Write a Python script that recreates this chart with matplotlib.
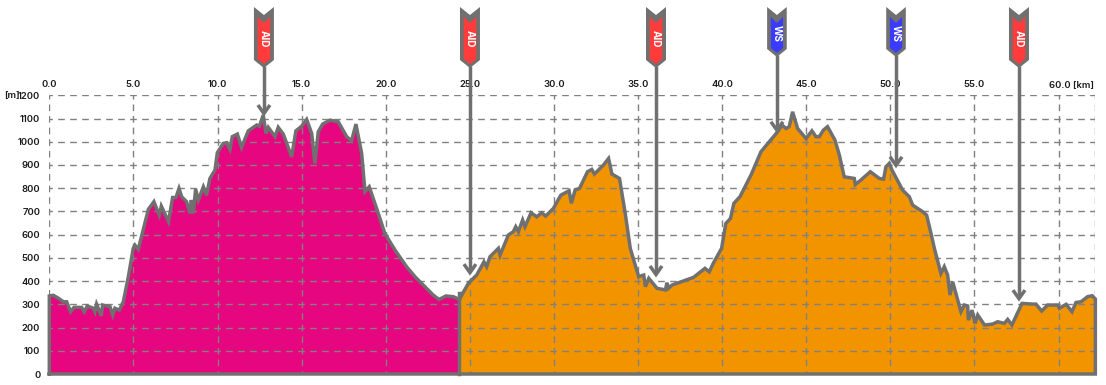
import numpy as np
import matplotlib
matplotlib.use("Agg")
import matplotlib.pyplot as plt
from matplotlib.patches import Polygon
from matplotlib.transforms import Affine2D

W, H = 1106, 385
plt.rcParams['font.family'] = ['Inter', 'DejaVu Sans']

km_a = [0,.24,.54,.83,1.03,1.27,1.47,1.92,2.08,2.26,2.62,2.71,2.81,2.97,3.09,3.17,3.61,3.77,3.90,4.16,4.40,4.70,4.99,5.09,5.29,5.89,6.22,6.54,6.66,7.09,7.33,7.53,7.71,7.87,8.16,8.36,8.44,8.56,8.70,8.86,9.16,9.35,9.55,9.85,9.99,10.34,10.54,10.74,10.88,11.18,11.43,11.83,12.33,12.49,12.72,12.88,13.02,13.42,13.61,13.91,14.41,14.66,15.0,15.3,15.6,15.79,15.99,16.25,16.69,17.18,17.68,17.97,18.23,18.57,18.77,19.02,19.46,19.95,20.55,21.24,21.74,22.23,22.82,23.17,23.58,24.02,24.38]
elev_a = [336,339,326,311,311,268,287,287,268,293,283,268,301,273,250,297,290,254,283,275,311,419,541,555,537,709,742,684,723,656,760,760,799,763,742,692,749,692,796,749,806,770,842,878,953,993,996,967,1022,1033,976,1047,1072,1067,1115,1036,1062,1022,1062,1033,935,1047,1067,1096,1036,907,1043,1076,1093,1086,1022,1004,1076,950,785,806,713,605,534,462,419,383,340,321,336,333,321]

km_b = [24.38,24.91,25.11,25.41,25.84,26.0,26.2,26.7,26.8,27.29,27.59,27.73,27.89,28.14,28.28,28.64,28.98,29.27,29.51,29.97,30.41,30.9,31.04,31.26,31.52,32.0,32.25,32.41,32.95,33.25,33.45,33.9,34.24,34.54,35.04,35.34,35.44,35.64,36.13,36.63,36.72,36.82,37.02,38.3,38.98,39.24,39.47,39.97,40.22,40.5,40.7,41.06,41.72,42.31,43.3,43.56,43.8,43.99,44.19,44.49,44.99,45.34,45.58,45.78,46.02,46.27,46.71,46.97,47.26,47.86,47.92,48.25,48.81,49.35,49.6,49.74,49.94,50.1,50.73,51.13,51.33,51.92,52.16,52.42,52.62,53.01,53.21,53.41,53.55,53.71,54.06,54.2,54.4,54.6,54.64,54.86,55.04,55.2,55.6,56.09,56.38,56.78,56.98,57.23,57.83,58.46,58.66,59.0,59.35,59.95,60.05,60.45,60.8,61.04,61.34,61.73,62.0,62.19]
elev_b = [350,390,405,426,483,462,505,541,512,598,613,634,613,663,634,694,677,694,680,713,770,789,735,792,799,871,881,861,900,928,861,842,692,541,419,426,376,412,369,362,393,369,383,416,455,440,476,541,648,670,735,763,857,957,1043,1072,1057,1065,1129,1057,1014,1047,1022,1022,1050,1065,1007,943,849,842,816,835,871,842,839,892,907,878,792,763,727,699,684,605,541,433,462,426,340,397,304,268,297,293,232,275,218,254,211,215,225,218,235,211,304,301,301,271,297,297,283,300,268,308,311,333,337,323]

x_ticks = [0,5,10,15,20,25,30,35,40,45,50,55,60]
x_labels = ['0.0','5.0','10.0','15.0','20.0','25.0','30.0','35.0','40.0','45.0','50.0','55.0','60.0 [km]']
y_ticks = list(range(0,1300,100))
y_labels = [str(v) for v in y_ticks]

station_km = [12.76,25.01,36.07,43.26,50.34,57.65]
station_elev = [1115,430,422,1043,892,318]
station_name = ['AID','AID','AID','WS','WS','AID']

PINK, ORANGE, GRAY = '#E6067F', '#F29400', '#707070'
GRID = '#808080'
TXT = '#1a1a1a'
FLAG = {'AID':'#FF3B3B','WS':'#3B3BFF'}

fig = plt.figure(figsize=(W/100,H/100),dpi=100,facecolor='white')
x0,x1,ytop,ybot = 49.3,1095,95.3,374
ax = fig.add_axes([x0/W,1-ybot/H,(x1-x0)/W,(ybot-ytop)/H])
ax.set_xlim(0,62.17); ax.set_ylim(0,1200)
for s in ax.spines.values(): s.set_visible(False)

ax.fill_between(km_a,elev_a,0,color=PINK,lw=0,zorder=1)
ax.fill_between(km_b,elev_b,0,color=ORANGE,lw=0,zorder=1)

ax.set_axisbelow(False)
ax.xaxis.grid(True,color=GRID,lw=1.0,linestyle=(2.4,(4.8,3.55)))
ax.yaxis.grid(True,color=GRID,lw=1.0,linestyle=(2.4,(4.8,3.84)))
ax.axvline(62.17,color=GRID,lw=1.0,linestyle=(2.4,(4.8,3.55)),zorder=2.5)

ax.xaxis.tick_top()
ax.set_xticks(x_ticks,x_labels)
ax.set_yticks(y_ticks,y_labels)
ax.tick_params(length=0,labelsize=6.8,labelcolor=TXT)
ax.tick_params(axis='x',pad=4.5)
ax.tick_params(axis='y',pad=6.5)
for t in ax.get_xticklabels()+ax.get_yticklabels(): t.set_fontweight(600)
lab = ax.get_xticklabels()[-1]
lab.set_ha('left')
lab.set_transform(lab.get_transform()+Affine2D().translate(-10,0))
ax.annotate('[m]',xy=(0,1200),xytext=(-30,0),xycoords='data',textcoords='offset pixels',
            ha='right',va='center',fontsize=6.8,fontweight=600,color=TXT,annotation_clip=False)

ol = dict(color=GRAY,lw=2.5,solid_joinstyle='miter',clip_on=False,zorder=3)
ax.plot([0]+km_a+km_b[1:]+[km_b[-1],0],[0]+elev_a+elev_b[1:]+[0,0],**ol)
ax.plot([km_b[0],km_b[0]],[0,elev_b[0]],**ol)

def px(xp,yp):
    return Affine2D().translate(xp,H-yp)

for k,e,name in zip(station_km,station_elev,station_name):
    cx,tipy = ax.transData.transform((k,e))
    tipy = H-tipy
    ws = name=='WS'
    hw = 10 if not ws else 9.8
    top = 7
    low = 60 if not ws else 49
    tr = px(cx,0)
    ax.add_patch(Polygon(np.array([(-hw,-top),(0,-top-8),(hw,-top),(hw,-low),(0,-low-8),(-hw,-low)]),
                         closed=True,fc=GRAY,ec='none',transform=tr,clip_on=False,zorder=5))
    ih = hw-3.7
    ax.add_patch(Polygon(np.array([(-ih,-top-10),(0,-top-16),(ih,-top-10),(ih,-low+1),(0,-low-4),(-ih,-low+1)]),
                         closed=True,fc=FLAG[name],ec='none',transform=tr,clip_on=False,zorder=6))
    ax.text(0,-39 if not ws else -33,name,transform=tr,rotation=-90,ha='center',va='center',
            color='white',fontsize=7.2,fontweight=700,clip_on=False,zorder=7)
    ax.plot([0,0],[-low-6,-tipy+3],transform=tr,color=GRAY,lw=2.5,solid_capstyle='butt',clip_on=False,zorder=4)
    ax.plot([-6,0,6],[-tipy+10,-tipy+1.5,-tipy+10],transform=tr,color=GRAY,lw=2.5,
            solid_joinstyle='miter',solid_capstyle='butt',clip_on=False,zorder=4)

fig.savefig('out.png',dpi=100,facecolor='white')
